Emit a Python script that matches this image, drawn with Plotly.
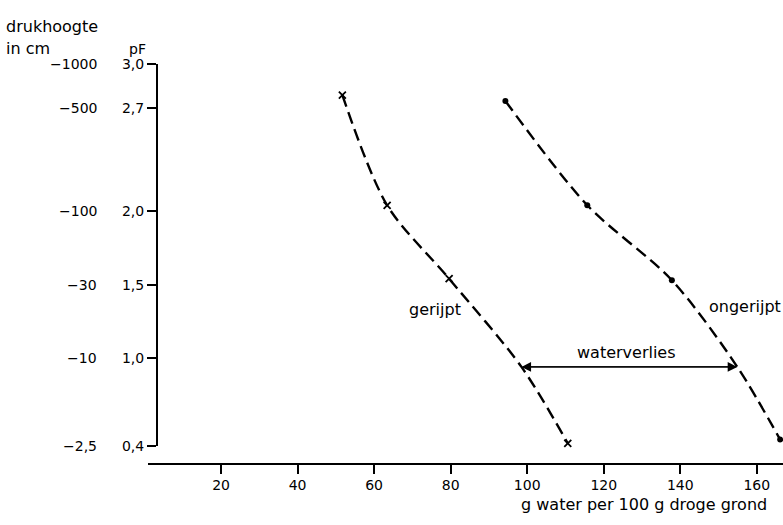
import plotly.graph_objects as go

# ---- data ----
# measured points
gerijpt_x = [51.7, 63.4, 79.6, 110.6]
gerijpt_pf = [2.79, 2.04, 1.54, 0.42]
ongerijpt_x = [94.3, 115.7, 137.8, 166.1]
ongerijpt_pf = [2.75, 2.04, 1.53, 0.445]

# dashed curves as traced on the picture (measured points + arrow crossing)
gerijpt_curve_x = [51.7, 63.4, 79.6, 98.5, 110.6]
gerijpt_curve_pf = [2.79, 2.04, 1.54, 0.94, 0.42]
ongerijpt_curve_x = [94.3, 115.7, 137.8, 154.9, 166.1]
ongerijpt_curve_pf = [2.75, 2.04, 1.53, 0.94, 0.445]

pf_ticks = [3.0, 2.7, 2.0, 1.5, 1.0, 0.4]
pf_labels = ["3,0", "2,7", "2,0", "1,5", "1,0", "0,4"]
druk_labels = ["−1000", "−500", "−100", "−30", "−10", "−2,5"]
x_ticks = [20, 40, 60, 80, 100, 120, 140, 160]

waterverlies_pf = 0.94
waterverlies_x = [98.5, 154.9]

W, H = 783, 525
FONT = "DejaVu Sans, Liberation Sans, Arial, sans-serif"
FS_WORD = 16
FS_NUM = 14


def px(xp):
    return xp / W


def py(yp):
    return 1 - yp / H


def word_font(size=FS_WORD):
    return dict(family=FONT, size=size, color="black")


fig = go.Figure()

for cx, cy in [(gerijpt_curve_x, gerijpt_curve_pf), (ongerijpt_curve_x, ongerijpt_curve_pf)]:
    fig.add_trace(go.Scatter(
        x=cx, y=cy, mode="lines",
        line=dict(color="black", width=2.4, dash="12px,6px", shape="spline", smoothing=0.85),
        cliponaxis=False, showlegend=False, hoverinfo="skip",
    ))

fig.add_trace(go.Scatter(
    x=gerijpt_x, y=gerijpt_pf, mode="markers", name="gerijpt",
    marker=dict(symbol="x-thin", size=7, line=dict(width=1.8, color="black"), color="black"),
    cliponaxis=False, showlegend=False,
))
fig.add_trace(go.Scatter(
    x=ongerijpt_x, y=ongerijpt_pf, mode="markers", name="ongerijpt",
    marker=dict(symbol="circle", size=6, color="black"),
    cliponaxis=False, showlegend=False,
))

annotations = []
# double-headed arrow "waterverlies": one full-length arrow in each direction
for xe, xs in [(waterverlies_x[0], waterverlies_x[1]), (waterverlies_x[1], waterverlies_x[0])]:
    annotations.append(dict(
        x=xe, y=waterverlies_pf, ax=xs, ay=waterverlies_pf,
        xref="x", yref="y", axref="x", ayref="y", text="",
        showarrow=True, arrowhead=2, arrowsize=1.6, arrowwidth=1.2,
        arrowcolor="black", standoff=0, startstandoff=0,
    ))

annotations += [
    dict(x=126.0, y=waterverlies_pf, yshift=14, xref="x", yref="y", text="waterverlies",
         showarrow=False, font=word_font()),
    dict(x=75.9, y=1.332, xref="x", yref="y", text="gerijpt",
         showarrow=False, font=word_font()),
    dict(x=156.9, y=1.35, xref="x", yref="y", text="ongerijpt",
         showarrow=False, font=word_font()),
]

# drukhoogte column
for v, t in zip(pf_ticks, druk_labels):
    annotations.append(dict(x=px(99), y=v, xref="paper", yref="y", text=t,
                            xanchor="right", yanchor="middle", showarrow=False,
                            font=word_font(FS_NUM)))

# headers
annotations += [
    dict(x=px(4), y=py(19), xref="paper", yref="paper", text="drukhoogte",
         xanchor="left", yanchor="middle", showarrow=False, font=word_font()),
    dict(x=px(4), y=py(42), xref="paper", yref="paper", text="in cm",
         xanchor="left", yanchor="middle", showarrow=False, font=word_font()),
    dict(x=px(127), y=py(42), xref="paper", yref="paper", text="pF",
         xanchor="left", yanchor="middle", showarrow=False, font=word_font(FS_NUM)),
    dict(x=px(644), y=py(512), xref="paper", yref="paper", text="g water per 100 g droge grond",
         xanchor="center", yanchor="middle", showarrow=False, font=word_font()),
]

# x mapping: pixel = 144.5 + 3.827 * x
x0 = (148 - 144.5) / 3.827
x1 = (783 - 144.5) / 3.827

fig.update_layout(
    width=W, height=H,
    margin=dict(l=0, r=0, t=0, b=0),
    paper_bgcolor="white", plot_bgcolor="white",
    font=dict(family=FONT, size=FS_NUM, color="black"),
    xaxis=dict(
        domain=[px(148), 1.0], range=[x0, x1],
        anchor="free", position=py(470),
        showline=True, linewidth=2, linecolor="black",
        ticks="outside", ticklen=9, tickwidth=1.5, tickcolor="black",
        tickvals=x_ticks, ticktext=[str(v) for v in x_ticks],
        showgrid=False, zeroline=False,
        tickfont=dict(family=FONT, size=FS_NUM, color="black"),
    ),
    yaxis=dict(
        domain=[py(452), py(58)], range=[0.4, 3.0],
        anchor="free", position=px(157),
        showline=True, linewidth=2, linecolor="black",
        ticks="outside", ticklen=9, tickwidth=1.5, tickcolor="black",
        tickvals=pf_ticks, ticktext=pf_labels,
        showgrid=False, zeroline=False,
        tickfont=dict(family=FONT, size=FS_NUM, color="black"),
    ),
    annotations=annotations,
)

fig.write_html(
    "out.html",
    config={"displayModeBar": False},
    post_script="document.body.style.margin='0';document.body.style.overflow='hidden';",
)
